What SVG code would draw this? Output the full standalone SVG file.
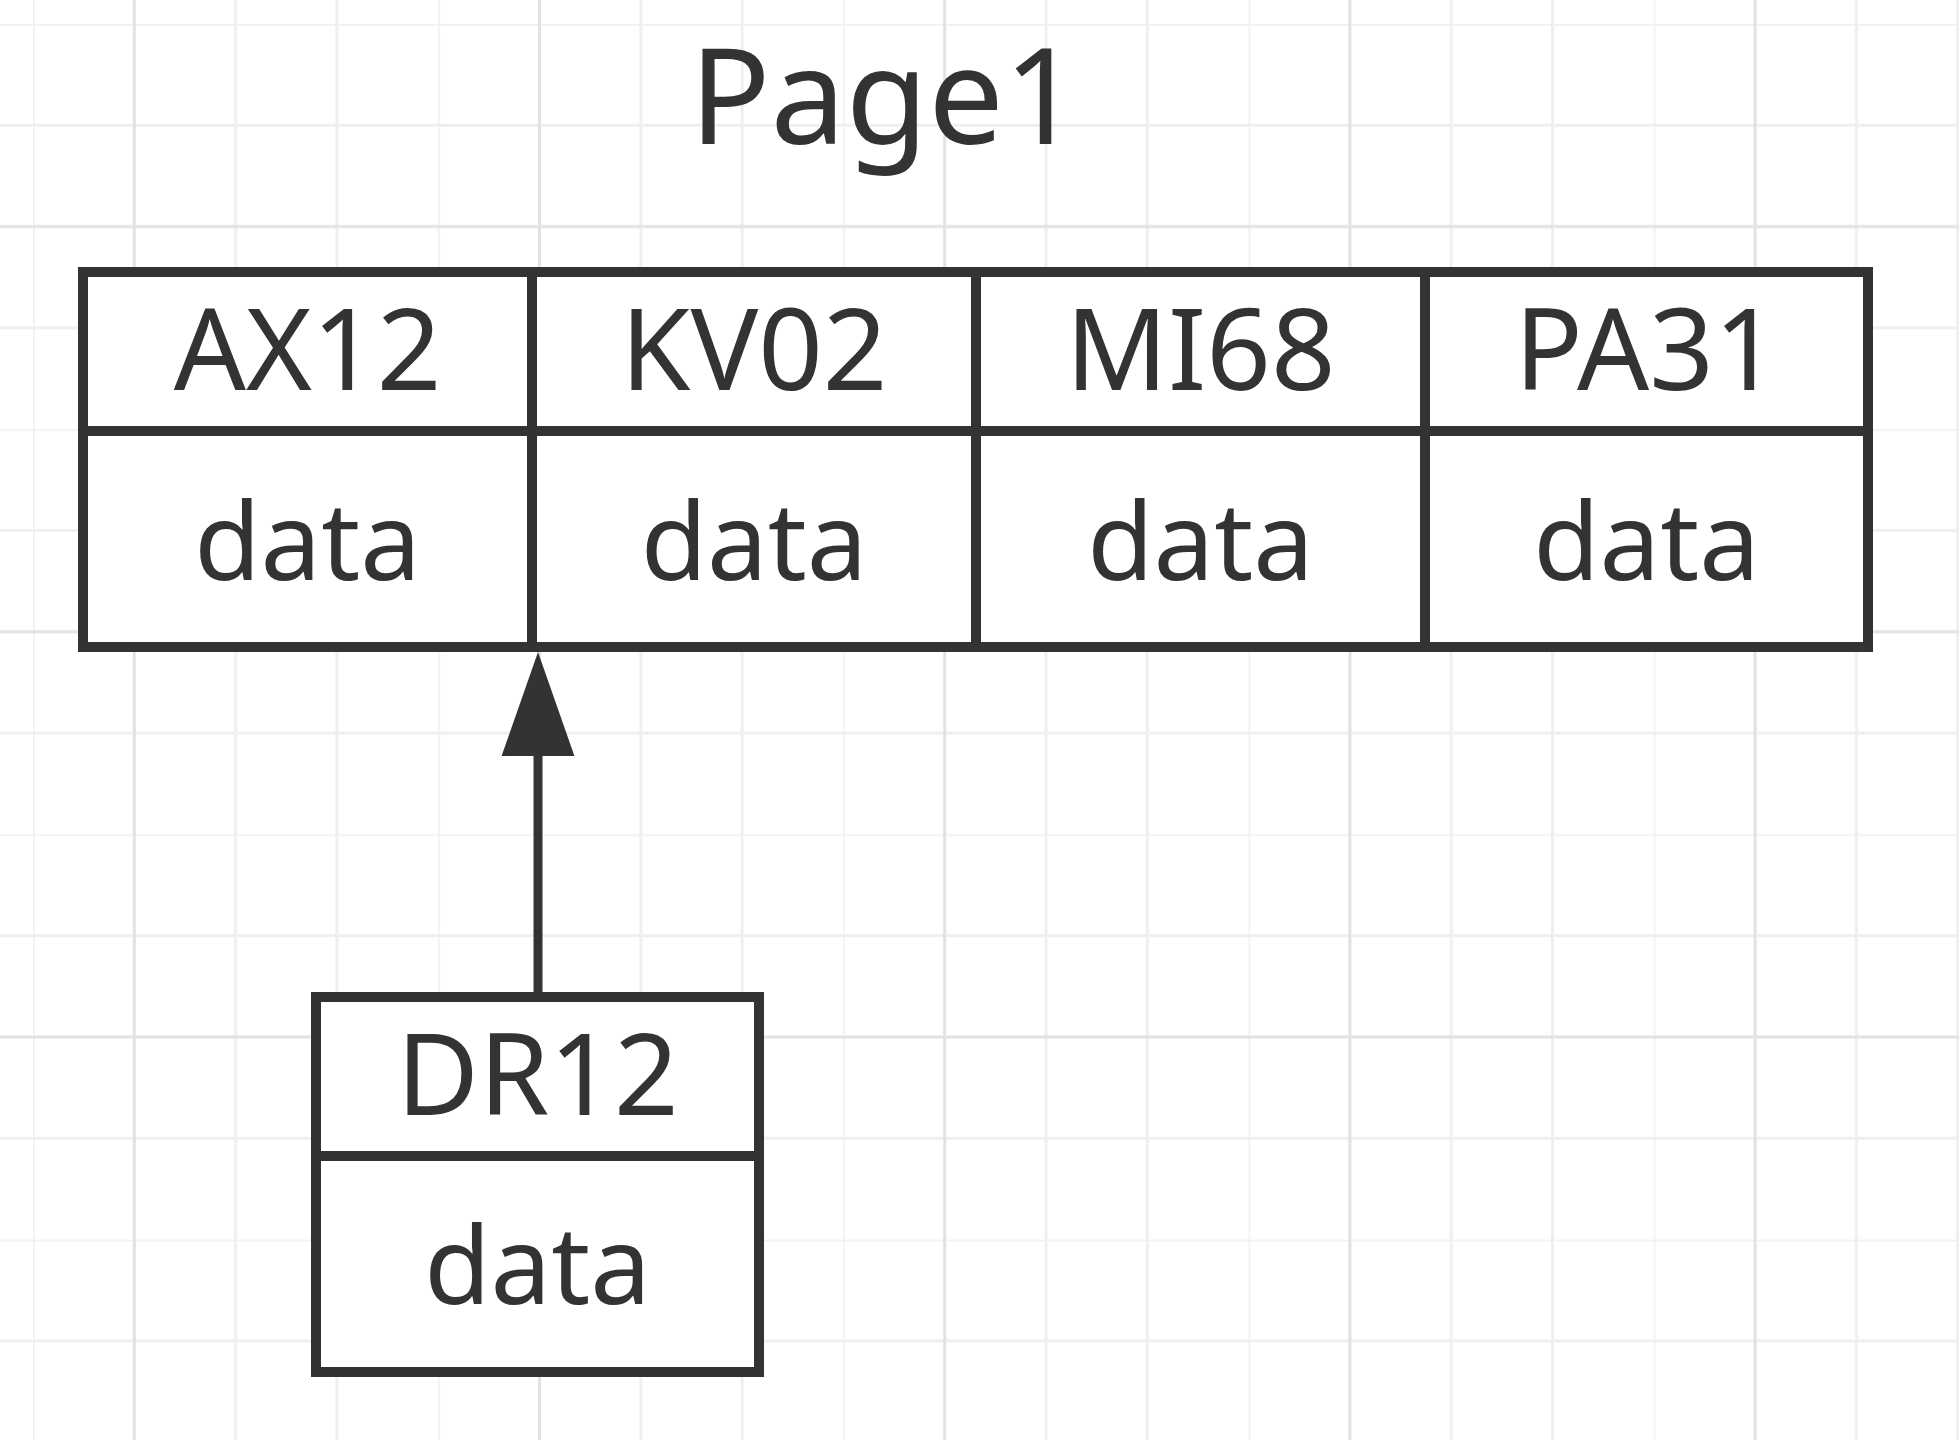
<svg xmlns="http://www.w3.org/2000/svg" width="1959" height="1440" viewBox="0 0 1959 1440">
  <style>
    .box { fill: #ffffff; stroke: #333333; stroke-width: 10; }
    .div { stroke: #333333; stroke-width: 10; fill: none; }
    .lbl { font-family: "Noto Sans", "Open Sans", "DejaVu Sans", sans-serif; fill: #333333; text-anchor: middle; }
    .hdr { font-size: 113px; }
    .dat { font-size: 108px; }
    .title { font-size: 134px; }
    .conn { stroke: #333333; stroke-width: 9; fill: none; }
  </style>
  <defs>
    <pattern id="grid" patternUnits="userSpaceOnUse" x="33" y="24" width="405.2" height="405.2">
      <g stroke="#efefef" stroke-width="3">
        <line x1="0" y1="0" x2="0" y2="405.2"/>
        <line x1="202.6" y1="0" x2="202.6" y2="405.2"/>
        <line x1="303.9" y1="0" x2="303.9" y2="405.2"/>
        <line x1="0" y1="0" x2="405.2" y2="0"/>
        <line x1="0" y1="101.3" x2="405.2" y2="101.3"/>
        <line x1="0" y1="303.9" x2="405.2" y2="303.9"/>
      </g>
      <g stroke="#e2e2e2" stroke-width="3">
        <line x1="101.3" y1="0" x2="101.3" y2="405.2"/>
        <line x1="0" y1="202.6" x2="405.2" y2="202.6"/>
      </g>
    </pattern>
  </defs>
  <rect x="0" y="0" width="1959" height="1440" fill="#ffffff"/>
  <rect x="0" y="0" width="1959" height="1440" fill="url(#grid)"/>

  <g id="title">
    <text class="lbl title" x="885" y="144">Page1</text>
  </g>

  <g id="page1-table">
    <rect class="box" x="83" y="272" width="1785" height="375"/>
    <line class="div" x1="83" y1="431" x2="1868" y2="431"/>
    <line class="div" x1="532" y1="272" x2="532" y2="647"/>
    <line class="div" x1="976" y1="272" x2="976" y2="647"/>
    <line class="div" x1="1425" y1="272" x2="1425" y2="647"/>
  </g>
  <g id="node-AX12">
    <text class="lbl hdr" x="307.5" y="390">AX12</text>
    <text class="lbl dat" x="307.5" y="580">data</text>
  </g>
  <g id="node-KV02">
    <text class="lbl hdr" x="754" y="390">KV02</text>
    <text class="lbl dat" x="754" y="580">data</text>
  </g>
  <g id="node-MI68">
    <text class="lbl hdr" x="1200.5" y="390">MI68</text>
    <text class="lbl dat" x="1200.5" y="580">data</text>
  </g>
  <g id="node-PA31">
    <text class="lbl hdr" x="1646.5" y="390">PA31</text>
    <text class="lbl dat" x="1646.5" y="580">data</text>
  </g>

  <g id="node-DR12">
    <rect class="box" x="316" y="997" width="443" height="375"/>
    <line class="div" x1="316" y1="1156" x2="759" y2="1156"/>
    <text class="lbl hdr" x="537.5" y="1115">DR12</text>
    <text class="lbl dat" x="537.5" y="1304">data</text>
  </g>

  <g id="connectors">
    <line class="conn" x1="538" y1="992" x2="538" y2="750"/>
    <polygon points="538,655 503,755 573,755" fill="#333333" stroke="#333333" stroke-width="2" stroke-linejoin="miter"/>
  </g>
</svg>
